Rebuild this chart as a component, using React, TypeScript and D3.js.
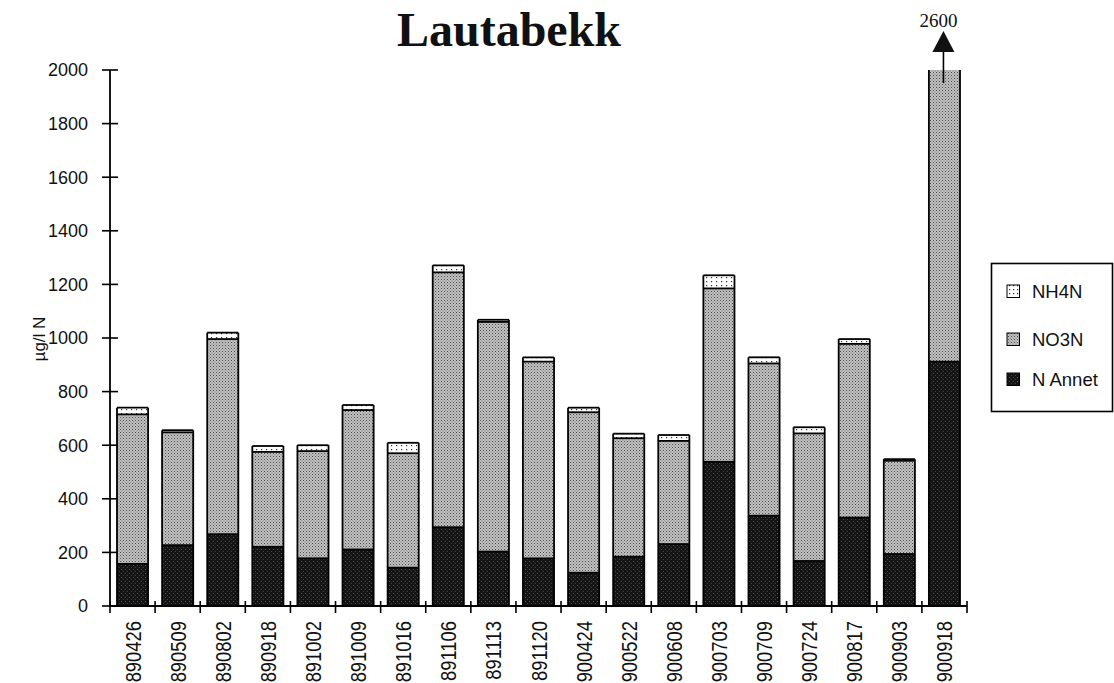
import React from "react";
import * as d3 from "d3";

const dates = ["890426","890509","890802","890918","891002","891009","891016","891106","891113","891120","900424","900522","900608","900703","900709","900724","900817","900903","900918"];
const nAnnet = [157, 227, 268, 221, 178, 211, 143, 294, 203, 178, 124, 184, 231, 538, 337, 168, 330, 194, 912];
const no3n = [558, 421, 728, 354, 400, 520, 427, 951, 857, 734, 599, 442, 385, 647, 568, 476, 648, 348, 1650];
const nh4n = [25, 8, 24, 22, 22, 19, 39, 26, 8, 16, 17, 17, 22, 49, 23, 23, 18, 6, 38];
const yTicks = [0, 200, 400, 600, 800, 1000, 1200, 1400, 1600, 1800, 2000];
const seriesNames = ["NH4N", "NO3N", "N Annet"];
const title = "Lautabekk";
const yLabel = "µg/l N";
const overflowLabel = "2600";

const W = 1114, H = 683;
const left = 110, right = 967, bottom = 606, top = 70;
const yMax = 2000;

export default function App() {
  const xb = d3.scaleBand<string>().domain(dates).range([left, right]).padding(0);
  const step = xb.step();
  const bw = step * 0.69;
  const y = d3.scaleLinear().domain([0, yMax]).range([bottom, top]);
  const sans = "'Liberation Sans', Arial, Helvetica, sans-serif";
  const serif = "'Liberation Serif', 'Times New Roman', serif";

  const stackData = dates.map((d, i) => ({ date: d, annet: nAnnet[i], no3: no3n[i], nh4: nh4n[i] }));
  const stack = d3.stack<any>().keys(["annet", "no3", "nh4"])(stackData);
  const fills: Record<string, string> = { annet: "url(#patAnnet)", no3: "url(#patNO3)", nh4: "url(#patNH4)" };

  const cy = (v: number) => y(Math.min(v, yMax));
  const lastIdx = dates.length - 1;
  const lastCx = (xb(dates[lastIdx]) as number) + step / 2;
  const yTop = y(yMax);

  return (
    <svg width={W} height={H} style={{ position: "absolute", left: 0, top: 0, background: "#fff" }}>
      <defs>
        <pattern id="patNO3" width="3" height="3" patternUnits="userSpaceOnUse">
          <rect width="3" height="3" fill="#c2c2c2" />
          <rect x="0" y="0" width="1" height="1" fill="#4a4a4a" />
          <rect x="1.5" y="1.5" width="1" height="1" fill="#6a6a6a" />
        </pattern>
        <pattern id="patAnnet" width="4" height="4" patternUnits="userSpaceOnUse">
          <rect width="4" height="4" fill="#141414" />
          <rect x="1" y="1" width="1" height="1" fill="#5a5a5a" />
          <rect x="3" y="3" width="1" height="1" fill="#444" />
        </pattern>
        <pattern id="patNH4" width="5" height="4" patternUnits="userSpaceOnUse">
          <rect width="5" height="4" fill="#ffffff" />
          <rect x="1" y="1" width="1.2" height="1.2" fill="#333" />
        </pattern>
        <pattern id="patNH4L" width="4" height="4" patternUnits="userSpaceOnUse">
          <rect width="4" height="4" fill="#ffffff" />
          <rect x="1" y="1" width="1.2" height="1.2" fill="#333" />
        </pattern>
      </defs>

      <text x={509} y={46} textAnchor="middle" fontFamily={serif} fontWeight="bold" fontSize={48} fill="#111">{title}</text>

      {/* bars */}
      {stack.map((s) => (
        <g key={s.key}>
          {s.map((seg, i) => {
            const x0 = (xb(dates[i]) as number) + (step - bw) / 2;
            const y0 = cy(seg[1]);
            const y1 = cy(seg[0]);
            if (y1 - y0 <= 0) return null;
            return <rect key={i} x={x0} y={y0} width={bw} height={y1 - y0} fill={fills[s.key as string]} />;
          })}
        </g>
      ))}
      {/* segment borders */}
      {stack.map((s) => (
        <g key={"b" + s.key}>
          {s.map((seg, i) => {
            const x0 = (xb(dates[i]) as number) + (step - bw) / 2;
            const yy = cy(seg[1]);
            if (seg[1] > yMax) return null;
            return <line key={i} x1={x0} x2={x0 + bw} y1={yy} y2={yy} stroke="#000" strokeWidth={1.8} />;
          })}
        </g>
      ))}
      {/* bar sides */}
      {dates.map((d, i) => {
        const x0 = (xb(d) as number) + (step - bw) / 2;
        const total = nAnnet[i] + no3n[i] + nh4n[i];
        const yt = cy(total);
        return (
          <g key={"s" + d}>
            <line x1={x0} x2={x0} y1={yt} y2={bottom} stroke="#000" strokeWidth={1.8} />
            <line x1={x0 + bw} x2={x0 + bw} y1={yt} y2={bottom} stroke="#000" strokeWidth={1.8} />
          </g>
        );
      })}

      {/* overflow arrow */}
      <line x1={lastCx - 1} x2={lastCx - 1} y1={yTop + 13} y2={yTop - 18} stroke="#000" strokeWidth={1.6} />
      <path d={`M${lastCx - 1},${yTop - 39} L${lastCx - 12},${yTop - 18} L${lastCx + 10},${yTop - 18} Z`} fill="#111" />
      <text x={lastCx - 6} y={27} textAnchor="middle" fontFamily={serif} fontSize={19} fill="#111">{overflowLabel}</text>

      {/* y axis */}
      <line x1={left} x2={left} y1={top} y2={bottom} stroke="#000" strokeWidth={1.8} />
      {yTicks.map((t) => (
        <g key={t}>
          <line x1={left - 8} x2={left + 8} y1={y(t)} y2={y(t)} stroke="#000" strokeWidth={1.6} />
          <text x={88} y={y(t)} dy="0.36em" textAnchor="end" fontFamily={sans} fontSize={18} fill="#111">{t}</text>
        </g>
      ))}
      <text transform={`translate(45,339) rotate(-90)`} textAnchor="middle" fontFamily={sans} fontSize={17} fill="#111">{yLabel}</text>

      {/* x axis */}
      <line x1={left} x2={right} y1={bottom} y2={bottom} stroke="#000" strokeWidth={1.8} />
      {[...dates.map((d) => xb(d) as number), right].map((bx, i) => (
        <line key={i} x1={bx} x2={bx} y1={bottom - 5} y2={bottom + 7} stroke="#000" strokeWidth={1.6} />
      ))}
      {dates.map((d) => {
        const c = (xb(d) as number) + step / 2;
        return (
          <text key={d} transform={`translate(${c + 8},621) rotate(-90) scale(1,1.2)`} textAnchor="end" fontFamily={sans} fontSize={18.4} fill="#111">{d}</text>
        );
      })}

      {/* legend */}
      <rect x={991.5} y={263.5} width={121} height={148} fill="#fff" stroke="#000" strokeWidth={1.6} />
      {seriesNames.map((n, i) => {
        const ys = [285, 333, 373][i];
        const f = ["url(#patNH4L)", "url(#patNO3)", "url(#patAnnet)"][i];
        return (
          <g key={n}>
            <rect x={1007} y={ys} width={12.5} height={12.5} fill={f} stroke="#000" strokeWidth={1} />
            <text x={1032} y={ys + 12.8} fontFamily={sans} fontSize={18.5} fill="#111">{n}</text>
          </g>
        );
      })}
    </svg>
  );
}
